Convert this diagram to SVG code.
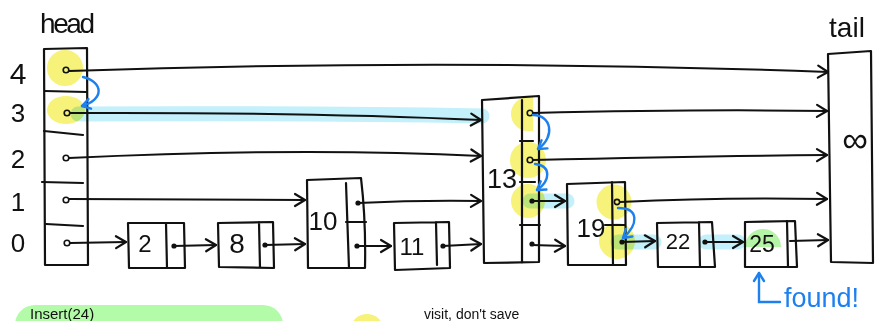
<svg xmlns="http://www.w3.org/2000/svg" width="885" height="321" viewBox="0 0 885 321">
<defs>
<marker id="ah" viewBox="-12 -8 14 16" markerWidth="14" markerHeight="16" refX="0" refY="0" markerUnits="userSpaceOnUse" orient="auto">
<path d="M-10,-6 L0,0 L-10,6" fill="none" stroke="#111" stroke-width="2.2" stroke-linecap="round" stroke-linejoin="round"/>
</marker>
<marker id="bh" viewBox="-10 -7 12 14" markerWidth="12" markerHeight="14" refX="0" refY="0" markerUnits="userSpaceOnUse" orient="auto">
<path d="M-8,-5 L0,0 L-8,5" fill="none" stroke="#1d80ee" stroke-width="2.4" stroke-linecap="round" stroke-linejoin="round"/>
</marker>
<style>
.ln{fill:none;stroke:#111;stroke-width:2.2;stroke-linecap:round;stroke-linejoin:round}
.cn{fill:none;stroke:#111;stroke-width:2;stroke-linecap:round;marker-end:url(#ah)}
.bl{fill:none;stroke:#1d80ee;stroke-width:2.4;stroke-linecap:round;marker-end:url(#bh)}
.yl{fill:#f6f27a;mix-blend-mode:multiply}
.bb{fill:none;stroke:#c3f0fb;stroke-width:15;stroke-linecap:round;mix-blend-mode:multiply}
.t{font-family:"Liberation Sans",Arial,sans-serif;fill:#111}
.ho{fill:none;stroke:#111;stroke-width:1.6}
.fd{fill:#111}
</style>
</defs>

<g id="highlights">
<ellipse class="yl" cx="65" cy="68" rx="18" ry="18"/>
<ellipse class="yl" cx="66" cy="110" rx="19" ry="14"/>
<path class="yl" d="M533,97 H528 A17,17 0 0 0 528,131 H533 Z"/>
<circle class="yl" cx="528" cy="160" r="18"/>
<circle class="yl" cx="528" cy="201" r="17"/>
<circle class="yl" cx="614" cy="202" r="17.5"/>
<circle class="yl" cx="617" cy="241" r="18"/>
<path class="bb" d="M78,114 Q300,113 482,116"/>
<path class="bb" d="M530,201 L567,201"/>
<path class="bb" d="M618,242 L654,242"/>
<path class="bb" d="M706,242 L738,242"/>
<path d="M745,247 A18,18 0 0 1 781,247 Z" fill="#b5f3a6"/>
</g>

<g id="head">
<path class="ln" d="M44,49 L87,48 L88,265 L45,265 Z"/>
<path class="ln" d="M45,91 L86,92 M44,131 L83,135 M42,182 L83,183 M46,224 L83,226"/>
<circle class="ho" cx="66" cy="70" r="2.8"/>
<circle class="ho" cx="67" cy="113" r="2.8"/>
<circle class="ho" cx="66" cy="158" r="2.8"/>
<circle class="ho" cx="66" cy="200" r="2.8"/>
<circle class="ho" cx="67" cy="243" r="2.8"/>
<text class="t" x="40" y="33" font-size="28" textLength="55">head</text>
<text class="t" x="18" y="84" font-size="30" text-anchor="middle">4</text>
<text class="t" x="18" y="122" font-size="26" text-anchor="middle">3</text>
<text class="t" x="18" y="168" font-size="26" text-anchor="middle">2</text>
<text class="t" x="18" y="211" font-size="26" text-anchor="middle">1</text>
<text class="t" x="18" y="252" font-size="26" text-anchor="middle">0</text>
</g>

<g id="node2">
<path class="ln" d="M128,223 L184,223 L185,268 L129,268 Z M166,223 L167,268"/>
<circle class="fd" cx="174" cy="246" r="2.6"/>
<text class="t" x="145" y="252" font-size="24" text-anchor="middle">2</text>
</g>
<g id="node8">
<path class="ln" d="M218,223 L273,222 L274,268 L219,267 Z M259,222 L260,268"/>
<circle class="fd" cx="265" cy="245" r="2.6"/>
<text class="t" x="237" y="253" font-size="28" text-anchor="middle">8</text>
</g>
<g id="node10">
<path class="ln" d="M307,180 L361,178 Q366,220 365,268 L308,268 Z M346,183 L349,268 M346,222 L366,222"/>
<circle class="fd" cx="358" cy="203" r="2.6"/>
<circle class="fd" cx="357" cy="246" r="2.6"/>
<text class="t" x="323" y="230" font-size="26" text-anchor="middle">10</text>
</g>
<g id="node11">
<path class="ln" d="M394,223 L449,222 L450,268 L395,270 Z M436,222 L437,265"/>
<circle class="fd" cx="443" cy="246" r="2.6"/>
<text class="t" x="412" y="255" font-size="24" text-anchor="middle">11</text>
</g>
<g id="node13">
<path class="ln" d="M482,100 L539,96 L539,262 L484,263 Z M522,100 L522,263 M520,141 L533,141 M520,182 L535,182 M520,225 L540,225"/>
<circle class="ho" cx="530" cy="113" r="2.8"/>
<circle class="ho" cx="530" cy="160" r="2.8"/>
<circle class="fd" cx="532" cy="201" r="2.6"/>
<circle class="fd" cx="532" cy="244" r="2.6"/>
<text class="t" x="502" y="188" font-size="27" text-anchor="middle">13</text>
</g>
<g id="node19">
<path class="ln" d="M567,184 L625,182 L626,265 L568,265 Z M612,182 L613,265 M605,225 L625,225"/>
<circle class="ho" cx="617" cy="202" r="2.6"/>
<circle class="fd" cx="622" cy="242" r="2.6"/>
<text class="t" x="591" y="237" font-size="26" text-anchor="middle">19</text>
</g>
<g id="node22">
<path class="ln" d="M657,223 L712,222 L715,267 L658,267 Z M699,222 L700,267"/>
<circle class="fd" cx="705" cy="242" r="2.6"/>
<text class="t" x="678" y="249" font-size="22" text-anchor="middle">22</text>
</g>
<g id="node25">
<path class="ln" d="M745,222 L795,221 L797,267 L745,267 Z M787,221 L788,267"/>
<text class="t" x="762" y="252" font-size="23" text-anchor="middle">25</text>
</g>
<g id="tail">
<path class="ln" d="M828,54 L871,51 L873,263 L831,262 Z"/>
<text class="t" x="847" y="37" font-size="28" text-anchor="middle">tail</text>
<text class="t" x="855" y="152" font-size="36" text-anchor="middle">∞</text>
</g>

<g id="connectors">
<path class="cn" d="M69,71 Q450,58 828,72"/>
<path class="cn" d="M70,113 Q300,112 481,120"/>
<path class="cn" d="M69,158 Q300,147 481,156"/>
<path class="cn" d="M69,199 Q200,200 305,200"/>
<path class="cn" d="M70,243 L126,242"/>
<path class="cn" d="M174,246 L216,245"/>
<path class="cn" d="M265,245 L305,244"/>
<path class="cn" d="M358,203 Q420,200 481,201"/>
<path class="cn" d="M357,246 L391,246"/>
<path class="cn" d="M443,246 L481,244"/>
<path class="cn" d="M533,113 Q700,109 827,111"/>
<path class="cn" d="M533,160 Q700,156 827,155"/>
<path class="cn" d="M532,201 L565,201"/>
<path class="cn" d="M532,245 L565,246"/>
<path class="cn" d="M620,202 Q720,197 827,199"/>
<path class="cn" d="M622,242 L655,241"/>
<path class="cn" d="M705,242 L743,242"/>
<path class="cn" d="M790,241 L828,240"/>
<path class="bl" d="M83,77 C104,82 104,100 82,106"/>
<path class="bl" d="M533,115 C551,115 556,136 538,149"/>
<path class="bl" d="M535,164 C552,166 550,181 537,190"/>
<path class="bl" d="M618,208 C640,208 638,225 623,238"/>
<path class="bl" d="M780,302 L759,302 L759,273"/>
<text x="784" y="307" font-size="27" font-family="Liberation Sans, Arial, sans-serif" fill="#1d80ee">found!</text>
</g>

<g id="legend">
<rect x="15" y="305" width="268" height="40" rx="20" fill="#b3fba9"/>
<text class="t" x="30" y="319" font-size="15">Insert(24)</text>
<circle cx="367" cy="331" r="17" fill="#f6f27a"/>
<text class="t" x="424" y="319" font-size="14">visit, don't save</text>
</g>
</svg>
